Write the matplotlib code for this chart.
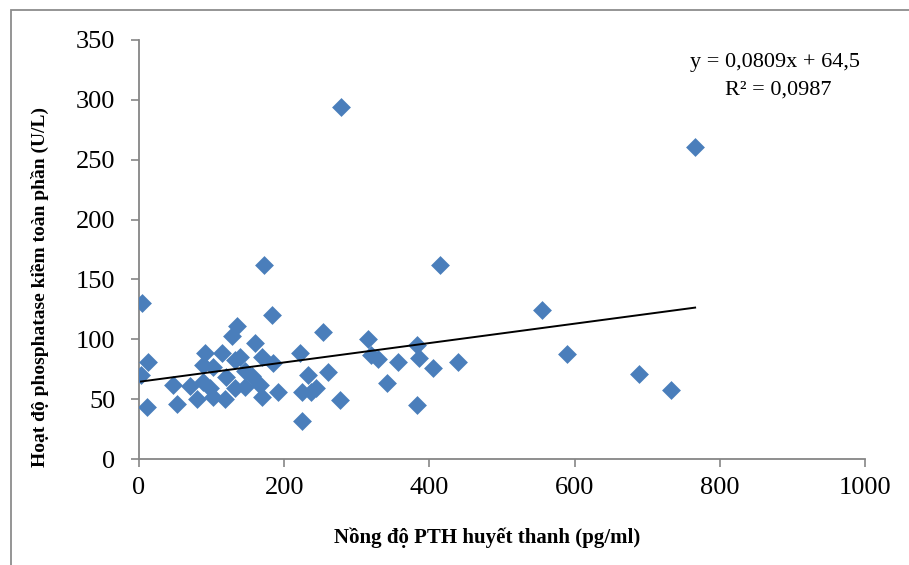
import matplotlib
matplotlib.use("Agg")
import matplotlib.pyplot as plt
from matplotlib.patches import Rectangle

pth = [3.7, 2.8, 12.8, 11.5, 47, 52, 70, 79.5, 88.5, 88.5, 91, 98, 102, 102,
       114, 118, 120.5, 127.5, 132, 132, 134.5, 139, 146, 146, 156, 160,
       166.7, 169, 169, 172, 183.6, 185, 192, 222, 224, 224, 233, 237.5,
       244, 253.5, 260, 276.8, 278, 315.4, 320, 329, 341, 357, 382.5, 385,
       382.5, 405, 414.6, 439, 554.5, 589, 688.7, 732.8, 766]
alp = [130.6, 70.2, 81.3, 43.7, 62, 46, 61, 50.5, 64.6, 78.5, 88.4, 59, 77, 52,
       88.4, 50.5, 68.8, 103, 82.7, 59, 111, 85.5, 73.5, 60.4, 69, 96.7,
       61.8, 85.5, 52, 162, 120, 80, 56, 88.4, 56, 32, 70, 56,
       59, 106, 73, 49.3, 294, 100.5, 86.5, 83.8, 63.5, 81, 95, 84,
       45, 75.7, 162, 81, 124.5, 87.6, 71.3, 57.6, 260.7]

slope = 0.0809
intercept = 64.5
r2_text = "R² = 0,0987"
eq_text = "y = 0,0809x + 64,5"

xticks = [0, 200, 400, 600, 800, 1000]
yticks = [0, 50, 100, 150, 200, 250, 300, 350]
xlabel = "Nồng độ PTH huyết thanh (pg/ml)"
ylabel = "Hoạt độ phosphatase kiềm toàn phần (U/L)"

plt.rcParams['font.family'] = ['Liberation Serif', 'DejaVu Serif']

W, H = 909, 565
fig = plt.figure(figsize=(W/100, H/100), dpi=100)
ax = fig.add_axes([139/W, 1-459/H, (865-139)/W, (459-40)/H])

# outer frame
fig.patches.append(Rectangle((11/W, -0.2), 1.2, 1.2 - 10/H, transform=fig.transFigure,
                             fill=False, edgecolor='#8c8c8c', linewidth=1.3))

ax.scatter(pth, alp, marker='D', s=9.6**2, color='#4A7EBB', linewidths=0, zorder=3)

xs = [min(pth), max(pth)]
ax.plot(xs, [intercept + slope*v for v in xs], color='black', linewidth=1.4, zorder=4)

ax.set_xlim(0, 1000)
ax.set_ylim(0, 350)
ax.set_xticks(xticks)
ax.set_yticks(yticks)
ax.set_xticklabels([str(v) for v in xticks])
ax.set_yticklabels([str(v) for v in yticks])

for s in ['top', 'right']:
    ax.spines[s].set_visible(False)
for s in ['left', 'bottom']:
    ax.spines[s].set_color('#868686')
    ax.spines[s].set_linewidth(1.3)
ax.tick_params(axis='both', direction='out', length=6, width=1.2, color='#868686',
               labelsize=19, labelcolor='black')
ax.tick_params(axis='x', pad=7)
ax.tick_params(axis='y', pad=11)

ax.set_xlabel(xlabel, fontsize=15, fontweight='bold')
ax.set_ylabel(ylabel, fontsize=14, fontweight='bold')
ax.xaxis.label.set_va('center')
ax.yaxis.label.set_va('center')
ax.xaxis.set_label_coords((487-139)/726, (459-538)/419)
ax.yaxis.set_label_coords((40-139)/726, (459-287)/419)

fig.text(775/W, 1-63/H, eq_text, ha='center', va='center', fontsize=16)
fig.text(778/W, 1-90/H, r2_text, ha='center', va='center', fontsize=16)

fig.savefig("out.png", dpi=100)
